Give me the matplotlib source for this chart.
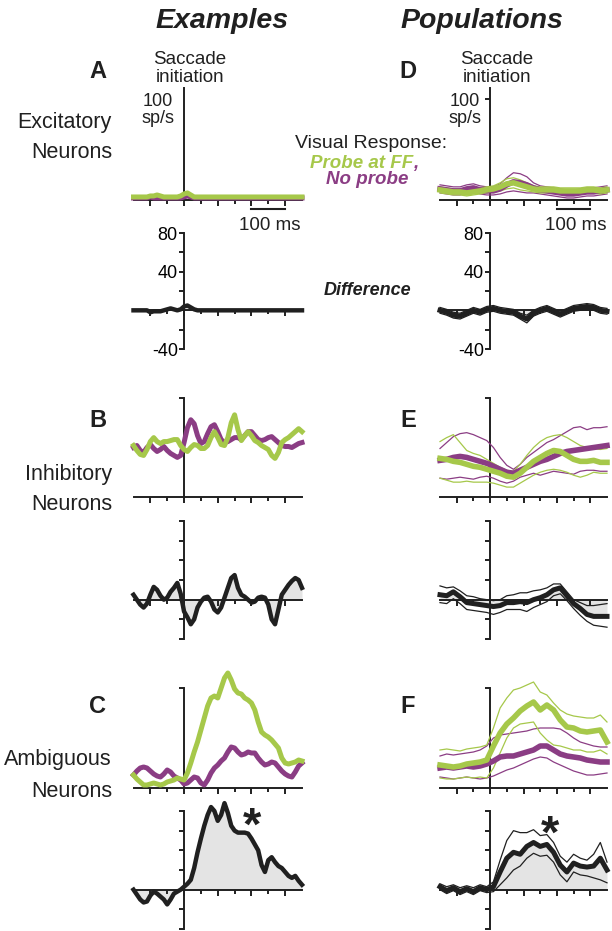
import matplotlib.pyplot as plt
import numpy as np

plt.rcParams['font.family'] = ['Liberation Sans', 'DejaVu Sans']

GREEN = '#a6c84a'
PURPLE = '#8b3d84'
BLACK = '#202020'
FILL = '#e4e4e4'

# time bases (ms from saccade initiation)
t_ex = np.arange(-150, 351, 10)
t_pop = np.arange(-150, 351, 20)

# ---- Examples (sp/s) ----
exc_green = [3, 3, 3, 3, 3, 4, 4, 5, 4, 3, 3, 3, 3, 3, 4, 6, 7, 5, 3, 3,
             3, 3, 3, 3, 3, 3, 3, 3, 3, 3, 3, 3, 3, 3, 3, 3, 3, 3, 3, 3,
             3, 3, 3, 3, 3, 3, 3, 3, 3, 3, 3]
exc_purple = [2, 2, 2, 2, 2, 3, 2, 2, 2, 2, 2, 2, 2, 2, 2, 3, 4, 3, 2, 2,
              2, 2, 2, 2, 2, 2, 2, 2, 2, 2, 2, 2, 2, 2, 2, 2, 2, 2, 2, 2,
              2, 2, 2, 2, 2, 2, 2, 2, 2, 2, 2]
exc_diff = [0, 0, 0, 0, 0, -2, -1, -1, -1, 0, 1, 2, 1, 0, 1, 4, 5, 3, 1, 0,
            0, 0, 0, 0, 0, 0, 0, 0, 0, 0, 0, 0, 0, 0, 0, 0, 0, 0, 0, 0,
            0, 0, 0, 0, 0, 0, 0, 0, 0, 0, 0]

inh_green = [52, 47, 43, 42, 48, 56, 60, 56, 54, 56, 56, 57, 58, 58, 52, 48, 46, 50, 53, 52,
             49, 49, 52, 60, 66, 60, 53, 52, 60, 75, 83, 68, 57, 62, 66, 62, 57, 55, 52, 50,
             48, 42, 39, 45, 55, 58, 60, 63, 66, 69, 66]
inh_purple = [50, 52, 47, 45, 50, 53, 49, 46, 48, 51, 47, 44, 42, 40, 42, 55, 70, 78, 74, 62,
              54, 56, 64, 71, 73, 66, 58, 55, 56, 58, 60, 60, 58, 62, 66, 66, 62, 58, 57, 58,
              60, 61, 58, 55, 52, 51, 51, 50, 52, 54, 55]
inh_diff = [5, 0, -5, -8, -4, 5, 13, 10, 4, 0, 2, 8, 12, 17, 6, -12, -18, -25, -20, -8,
            -2, 2, 3, -2, -10, -13, -8, 2, 12, 22, 25, 12, 5, 3, 0, -3, -2, 2, 3, 2,
            -5, -20, -25, -10, 5, 10, 15, 19, 22, 20, 12]

amb_green = [13, 9, 6, 3, 3, 4, 5, 4, 3, 4, 6, 7, 8, 10, 9, 8, 15, 25, 36, 46,
             58, 70, 82, 90, 92, 90, 100, 110, 115, 108, 99, 95, 94, 90, 88, 85, 78, 66, 56, 53,
             51, 48, 44, 40, 30, 25, 24, 25, 26, 28, 27]
amb_purple = [13, 17, 20, 21, 20, 17, 14, 12, 11, 14, 18, 16, 12, 10, 8, 4, 5, 8, 11, 10,
              5, 3, 8, 15, 20, 23, 27, 30, 36, 41, 40, 36, 33, 34, 36, 35, 35, 30, 26, 23,
              24, 26, 25, 21, 17, 14, 12, 11, 16, 22, 25]
amb_diff = [0, -5, -10, -13, -12, -6, -2, -4, -7, -10, -15, -10, -4, -2, 0, 3, 6, 10, 22, 38,
            52, 65, 76, 84, 80, 70, 76, 88, 78, 65, 60, 58, 58, 58, 57, 52, 46, 40, 25, 18,
            30, 33, 28, 24, 22, 18, 14, 12, 14, 9, 5]

# ---- Populations (sp/s), mean and +/- SEM bounds ----
exc_pop_green = [10, 9, 8, 8, 7, 8, 9, 10, 11, 13, 16, 17, 15, 13, 11, 10, 10, 10, 9, 9, 9, 9, 10, 10, 9, 10]
exc_pop_green_hi = [13, 12, 11, 11, 10, 11, 12, 13, 14, 17, 21, 22, 20, 17, 14, 13, 13, 13, 12, 12, 12, 12, 13, 13, 12, 13]
exc_pop_green_lo = [7, 6, 5, 5, 4, 5, 6, 7, 8, 9, 11, 12, 10, 9, 8, 7, 7, 7, 6, 6, 6, 6, 7, 7, 6, 7]
exc_pop_purple = [11, 10, 9, 9, 11, 12, 10, 9, 9, 11, 15, 18, 17, 15, 12, 10, 9, 8, 7, 6, 6, 7, 8, 8, 9, 10]
exc_pop_purple_hi = [15, 14, 13, 13, 15, 16, 14, 13, 13, 16, 22, 27, 26, 23, 17, 14, 13, 12, 11, 10, 10, 11, 12, 12, 13, 14]
exc_pop_purple_lo = [7, 6, 5, 5, 7, 8, 6, 5, 5, 6, 8, 9, 8, 7, 7, 6, 5, 4, 3, 2, 2, 3, 4, 4, 5, 6]
exc_pop_diff = [0, -2, -5, -6, -3, 0, -2, 1, 2, 0, -1, -2, -6, -9, -3, 0, 2, -1, -4, -1, 2, 3, 4, 3, 0, -1]
exc_pop_diff_hi = [3, 1, -2, -3, 0, 3, 1, 4, 5, 3, 2, 1, -3, -5, 0, 3, 5, 2, -1, 2, 5, 6, 7, 6, 3, 2]
exc_pop_diff_lo = [-3, -5, -8, -9, -6, -3, -5, -2, -1, -3, -4, -5, -9, -13, -6, -3, -1, -4, -7, -4, -1, 0, 1, 0, -3, -4]

inh_pop_green = [39, 38, 36, 35, 33, 31, 30, 28, 26, 24, 21, 20, 24, 30, 36, 40, 44, 47, 46, 42, 38, 36, 36, 37, 35, 35]
inh_pop_green_hi = [56, 60, 63, 55, 47, 44, 42, 38, 34, 30, 27, 26, 33, 42, 50, 56, 60, 62, 63, 60, 56, 52, 50, 49, 48, 49]
inh_pop_green_lo = [19, 17, 15, 15, 16, 15, 15, 15, 14, 12, 10, 10, 14, 18, 22, 25, 27, 28, 27, 25, 22, 20, 22, 25, 24, 24]
inh_pop_purple = [37, 38, 40, 41, 40, 38, 36, 34, 31, 28, 25, 24, 27, 30, 33, 36, 38, 41, 44, 46, 47, 48, 49, 50, 51, 52]
inh_pop_purple_hi = [49, 55, 61, 64, 65, 63, 60, 57, 50, 40, 32, 28, 33, 40, 45, 50, 55, 58, 62, 66, 70, 71, 68, 70, 70, 71]
inh_pop_purple_lo = [19, 18, 19, 20, 19, 18, 20, 21, 19, 16, 14, 16, 20, 22, 24, 22, 24, 26, 25, 24, 23, 26, 27, 27, 26, 26]
inh_pop_diff = [5, 4, 8, 3, -3, -4, -5, -6, -7, -6, -3, -3, -2, -3, 0, 2, 5, 10, 12, 4, -4, -9, -15, -17, -17, -17]
inh_pop_diff_hi = [14, 12, 13, 9, 4, 3, 1, 0, -1, 0, 4, 5, 7, 7, 9, 10, 12, 16, 16, 8, 0, -3, -6, -6, -5, -4]
inh_pop_diff_lo = [-3, -4, 1, -4, -10, -11, -12, -13, -15, -13, -10, -10, -10, -12, -8, -5, -2, 4, 6, -1, -9, -16, -22, -26, -27, -28]

amb_pop_green = [23, 22, 21, 22, 24, 25, 26, 28, 42, 55, 64, 70, 77, 82, 86, 78, 83, 78, 68, 61, 60, 57, 56, 57, 58, 46]
amb_pop_green_hi = [38, 39, 38, 37, 39, 40, 41, 43, 60, 80, 90, 98, 100, 103, 106, 96, 93, 85, 78, 74, 72, 71, 70, 70, 73, 66]
amb_pop_green_lo = [10, 9, 9, 10, 11, 10, 11, 10, 20, 35, 50, 60, 64, 65, 66, 55, 48, 43, 42, 40, 38, 38, 36, 36, 38, 34]
amb_pop_purple = [20, 21, 20, 21, 22, 21, 22, 24, 27, 31, 32, 32, 34, 36, 38, 42, 42, 38, 34, 32, 31, 30, 28, 27, 26, 26]
amb_pop_purple_hi = [32, 34, 33, 34, 35, 36, 38, 42, 50, 53, 54, 55, 56, 57, 59, 60, 60, 60, 59, 55, 50, 46, 44, 42, 41, 41]
amb_pop_purple_lo = [11, 10, 9, 10, 11, 10, 9, 10, 12, 15, 18, 20, 23, 26, 29, 31, 30, 26, 23, 20, 17, 15, 13, 13, 14, 15]
amb_pop_diff = [3, -1, 2, -2, 1, -2, 2, 0, 3, 18, 32, 38, 36, 44, 48, 44, 46, 38, 25, 18, 27, 24, 23, 24, 32, 20]
amb_pop_diff_hi = [6, 3, 5, 2, 4, 2, 5, 3, 8, 30, 50, 60, 58, 58, 61, 55, 56, 48, 34, 28, 36, 32, 30, 36, 48, 28]
amb_pop_diff_lo = [0, -4, -1, -5, -2, -5, -1, -3, -2, 5, 12, 20, 24, 32, 37, 34, 35, 28, 15, 8, 18, 15, 14, 12, 10, 7]

W, H = 612, 931
fig = plt.figure(figsize=(W / 100, H / 100), dpi=100)

LEFT = (133.5, 302)
RIGHT = (440, 607)
RESP_ROWS = [(200, 99), (497, 398), (788, 688)]     # pixel of 0 and 100 sp/s
DIFF_ROWS = [(349, 233), (639, 521), (929, 811)]    # pixel of -40 and 80 sp/s


def make_ax(col, ypix_lo, ypix_hi, ylo, yhi):
    xl, xr = col
    ax = fig.add_axes([xl / W, 1 - ypix_lo / H, (xr - xl) / W, (ypix_lo - ypix_hi) / H])
    ax.set_xlim(-150, 350)
    ax.set_ylim(ylo, yhi)
    ax.patch.set_visible(False)
    for s in ['top', 'right']:
        ax.spines[s].set_visible(False)
    for s in ['left', 'bottom']:
        ax.spines[s].set_linewidth(1.4)
        ax.spines[s].set_color(BLACK)
    ax.spines['left'].set_position(('data', 0))
    ax.set_xticks([-100, 0, 100, 200, 300])
    ax.set_xticks([-50, 50, 150, 250], minor=True)
    ax.set_xticklabels([])
    ax.tick_params(axis='x', which='major', direction='out', length=4.5, width=1.4, color=BLACK)
    ax.tick_params(axis='x', which='minor', direction='out', length=3, width=1.4, color=BLACK)
    ax.tick_params(axis='y', which='both', direction='out', length=3.5, width=1.4, color=BLACK,
                   labelsize=13, pad=1)
    return ax


def resp_ax(col, row, top_line=False):
    lo, hi = RESP_ROWS[row]
    ax = make_ax(col, lo, hi, 0, 100)
    ax.spines['bottom'].set_bounds(-150, 350)
    if top_line:
        ax.spines['left'].set_visible(False)
        ax.plot([0, 0], [0, 111], color=BLACK, lw=1.4, clip_on=False, zorder=2)
    else:
        ax.spines['left'].set_bounds(0, 100)
    ax.set_yticks([100])
    ax.set_yticklabels([])
    return ax


def diff_ax(col, row, labels=False):
    lo, hi = DIFF_ROWS[row]
    ax = make_ax(col, lo, hi, -40, 80)
    ax.spines['bottom'].set_position(('data', 0))
    ax.spines['bottom'].set_bounds(-150, 350)
    ax.spines['left'].set_bounds(-40, 80)
    ax.set_yticks([-40, -20, 0, 20, 40, 60, 80])
    if labels:
        ax.set_yticklabels(['-40', '', '', '', '40', '', '80'])
    else:
        ax.set_yticklabels([])
    return ax


def example_resp(ax, green, purple):
    ax.plot(t_ex, purple, color=PURPLE, lw=3.6, clip_on=False, zorder=3, solid_joinstyle='round')
    ax.plot(t_ex, green, color=GREEN, lw=3.6, clip_on=False, zorder=4, solid_joinstyle='round')


def example_diff(ax, diff):
    ax.fill_between(t_ex, 0, diff, color=FILL, lw=0, zorder=1)
    ax.plot(t_ex, diff, color=BLACK, lw=3.2, clip_on=False, zorder=3, solid_joinstyle='round')


def pop_resp(ax, g, g_hi, g_lo, p, p_hi, p_lo):
    for y in (p_hi, p_lo):
        ax.plot(t_pop, y, color=PURPLE, lw=0.9, clip_on=False, zorder=3)
    for y in (g_hi, g_lo):
        ax.plot(t_pop, y, color=GREEN, lw=0.9, clip_on=False, zorder=3)
    ax.plot(t_pop, p, color=PURPLE, lw=4, clip_on=False, zorder=4, solid_joinstyle='round')
    ax.plot(t_pop, g, color=GREEN, lw=4, clip_on=False, zorder=5, solid_joinstyle='round')


def pop_diff(ax, d, d_hi, d_lo):
    ax.fill_between(t_pop, 0, d, color=FILL, lw=0, zorder=1)
    for y in (d_hi, d_lo):
        ax.plot(t_pop, y, color=BLACK, lw=0.9, clip_on=False, zorder=3)
    ax.plot(t_pop, d, color=BLACK, lw=3.6, clip_on=False, zorder=4, solid_joinstyle='round')


# Examples column
ax = resp_ax(LEFT, 0, top_line=True)
ax.set_yticks([])
example_resp(ax, exc_green, exc_purple)
ax.plot([200, 300], [-9, -9], color=BLACK, lw=1.5, clip_on=False)
ax = diff_ax(LEFT, 0, labels=True)
example_diff(ax, exc_diff)

ax = resp_ax(LEFT, 1)
example_resp(ax, inh_green, inh_purple)
ax = diff_ax(LEFT, 1)
example_diff(ax, inh_diff)

ax = resp_ax(LEFT, 2)
example_resp(ax, amb_green, amb_purple)
ax = diff_ax(LEFT, 2)
example_diff(ax, amb_diff)

# Populations column
ax = resp_ax(RIGHT, 0, top_line=True)
pop_resp(ax, exc_pop_green, exc_pop_green_hi, exc_pop_green_lo,
         exc_pop_purple, exc_pop_purple_hi, exc_pop_purple_lo)
ax.plot([200, 300], [-9, -9], color=BLACK, lw=1.5, clip_on=False)
ax = diff_ax(RIGHT, 0, labels=True)
pop_diff(ax, exc_pop_diff, exc_pop_diff_hi, exc_pop_diff_lo)

ax = resp_ax(RIGHT, 1)
pop_resp(ax, inh_pop_green, inh_pop_green_hi, inh_pop_green_lo,
         inh_pop_purple, inh_pop_purple_hi, inh_pop_purple_lo)
ax = diff_ax(RIGHT, 1)
pop_diff(ax, inh_pop_diff, inh_pop_diff_hi, inh_pop_diff_lo)

ax = resp_ax(RIGHT, 2)
pop_resp(ax, amb_pop_green, amb_pop_green_hi, amb_pop_green_lo,
         amb_pop_purple, amb_pop_purple_hi, amb_pop_purple_lo)
ax = diff_ax(RIGHT, 2)
pop_diff(ax, amb_pop_diff, amb_pop_diff_hi, amb_pop_diff_lo)


def ftext(x, y, s, **kw):
    kw.setdefault('color', BLACK)
    fig.text(x / W, 1 - y / H, s, **kw)


ftext(222, 28, 'Examples', fontsize=20.5, fontweight='bold', fontstyle='italic', ha='center', va='baseline')
ftext(482, 28, 'Populations', fontsize=20.5, fontweight='bold', fontstyle='italic', ha='center', va='baseline')

for letter, x, y in [('A', 98, 78), ('B', 98, 427), ('C', 98, 713),
                     ('D', 408, 78), ('E', 408, 427), ('F', 408, 713)]:
    ftext(x, y, letter, fontsize=17, fontweight='bold', ha='center', va='baseline')

# stacked two-line labels as single texts (tight line spacing)
for cx in (190, 497):
    ftext(cx, 82, 'Saccade\ninitiation', fontsize=13.5, ha='center', va='baseline',
          multialignment='center', linespacing=1.08)

for cx in (158, 465):
    ftext(cx, 123, '100\nsp/s', fontsize=13, ha='center', va='baseline',
          multialignment='center', linespacing=0.98)

ftext(270, 230, '100 ms', fontsize=13.5, ha='center', va='baseline')
ftext(576, 230, '100 ms', fontsize=13.5, ha='center', va='baseline')

for name, y1, y2 in [('Excitatory', 128, 158), ('Inhibitory', 480, 510), ('Ambiguous', 765, 797)]:
    ftext(112, y1, name, fontsize=15.5, ha='right', va='baseline')
    ftext(112, y2, 'Neurons', fontsize=15.5, ha='right', va='baseline')

ftext(447, 148, 'Visual Response:', fontsize=14, ha='right', va='baseline')
ftext(413, 167.5, 'Probe at FF', fontsize=13.5, fontweight='bold', fontstyle='italic',
      color=GREEN, ha='right', va='baseline')
ftext(413, 167.5, ',', fontsize=13.5, fontweight='bold', fontstyle='italic',
      color=PURPLE, ha='left', va='baseline')
ftext(367, 184, 'No probe', fontsize=13.5, fontweight='bold', fontstyle='italic',
      color=PURPLE, ha='center', va='baseline')
ftext(367, 295, 'Difference', fontsize=13, fontweight='bold', fontstyle='italic',
      ha='center', va='baseline')

ftext(252, 840, '*', fontsize=34, fontweight='bold', ha='center', va='baseline')
ftext(550, 848, '*', fontsize=34, fontweight='bold', ha='center', va='baseline')

fig.savefig('out.png', dpi=100)
